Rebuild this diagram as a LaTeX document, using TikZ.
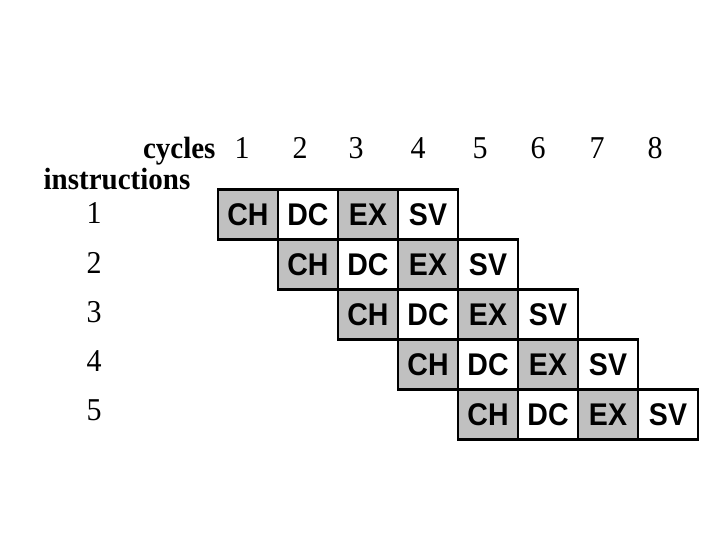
\documentclass[tikz,border=0pt]{standalone}
\usepackage{graphicx}
\usepackage{fontspec}
\setmainfont{Liberation Serif}
\setsansfont{Liberation Sans}
\usetikzlibrary{positioning}
\definecolor{cellgray}{RGB}{192,192,192}
\newcommand\tallstage[1]{\scalebox{1}[1.1]{#1}}
\newcommand\tallnum[1]{\scalebox{1}[1.06]{#1}}

\begin{document}
\begin{tikzpicture}[x=1pt,y=-1pt,node distance=0pt,
  stage box/.style={draw,line width=2.8pt,outer sep=0pt,inner sep=0pt,
    minimum width=60pt,minimum height=50pt,
    font=\sffamily\bfseries\fontsize{28.5}{28.5}\selectfont},
  dark box/.style={stage box,fill=cellgray},
  light box/.style={stage box,fill=white},
  num label/.style={anchor=base,font=\fontsize{30}{30}\selectfont}]

  \useasboundingbox (0,0) rectangle (720,540);

  % headings
  \node[num label,anchor=base east,font=\bfseries\fontsize{29}{29}\selectfont]
    (cycles) at (219,159) {\tallnum{cycles}};
  \node[num label,font=\bfseries\fontsize{29}{29}\selectfont]
    (instr) at (117,190) {\tallnum{instructions}};

  % cycle numbers
  \node[num label] (c1) at (242,159) {\tallnum{1}};
  \node[num label] (c2) at (300,159) {\tallnum{2}};
  \node[num label] (c3) at (356,159) {\tallnum{3}};
  \node[num label] (c4) at (418,159) {\tallnum{4}};
  \node[num label] (c5) at (480,159) {\tallnum{5}};
  \node[num label] (c6) at (538,159) {\tallnum{6}};
  \node[num label] (c7) at (597,159) {\tallnum{7}};
  \node[num label] (c8) at (655,159) {\tallnum{8}};

  % instruction numbers
  \node[num label] (i1) at (94,223) {\tallnum{1}};
  \node[num label] (i2) at (94,273) {\tallnum{2}};
  \node[num label] (i3) at (94,322) {\tallnum{3}};
  \node[num label] (i4) at (94,371) {\tallnum{4}};
  \node[num label] (i5) at (94,420) {\tallnum{5}};

  % pipeline stages
  \node[dark box] (ch1) at (248,214.5) {\tallstage{CH}};
  \node[light box] (dc1) [right=of ch1] {\tallstage{DC}};
  \node[dark box] (ex1) [right=of dc1] {\tallstage{EX}};
  \node[light box] (sv1) [right=of ex1] {\tallstage{SV}};

  \node[dark box] (ch2) [below=of dc1] {\tallstage{CH}};
  \node[light box] (dc2) [right=of ch2] {\tallstage{DC}};
  \node[dark box] (ex2) [right=of dc2] {\tallstage{EX}};
  \node[light box] (sv2) [right=of ex2] {\tallstage{SV}};

  \node[dark box] (ch3) [below=of dc2] {\tallstage{CH}};
  \node[light box] (dc3) [right=of ch3] {\tallstage{DC}};
  \node[dark box] (ex3) [right=of dc3] {\tallstage{EX}};
  \node[light box] (sv3) [right=of ex3] {\tallstage{SV}};

  \node[dark box] (ch4) [below=of dc3] {\tallstage{CH}};
  \node[light box] (dc4) [right=of ch4] {\tallstage{DC}};
  \node[dark box] (ex4) [right=of dc4] {\tallstage{EX}};
  \node[light box] (sv4) [right=of ex4] {\tallstage{SV}};

  \node[dark box] (ch5) [below=of dc4] {\tallstage{CH}};
  \node[light box] (dc5) [right=of ch5] {\tallstage{DC}};
  \node[dark box] (ex5) [right=of dc5] {\tallstage{EX}};
  \node[light box] (sv5) [right=of ex5] {\tallstage{SV}};
\end{tikzpicture}
\end{document}
